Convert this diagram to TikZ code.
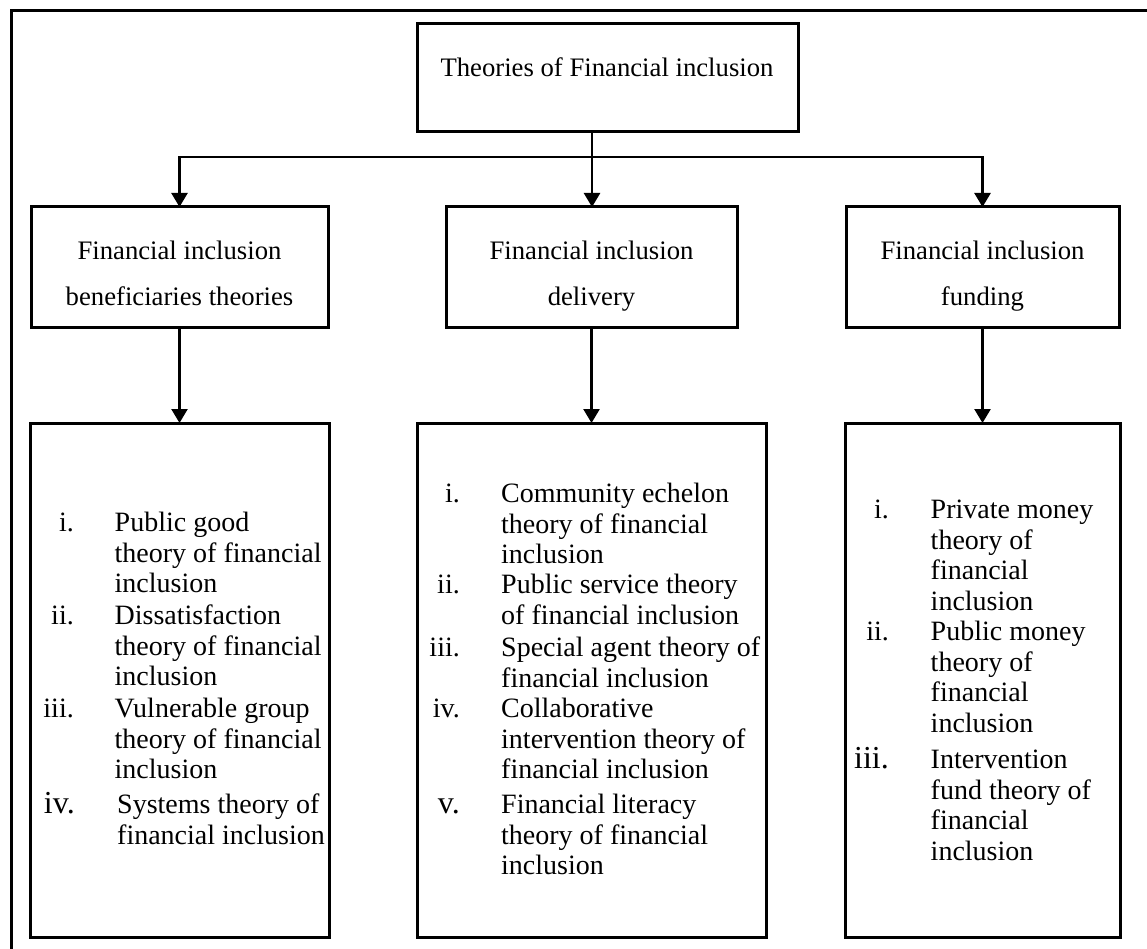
\documentclass[tikz,border=0pt]{standalone}
\usepackage{fontspec}
\setmainfont{Liberation Serif}
\usetikzlibrary{arrows.meta}
\begin{document}
\begin{tikzpicture}[x=1pt,y=-1pt,
  box/.style={draw, line width=3pt, inner sep=0pt, outer sep=0pt, anchor=north west},
  conn/.style={line width=2.5pt, -{Triangle[width=16pt,length=14pt]}},
  trunk/.style={line width=2.5pt},
  head/.style={inner sep=0pt, anchor=north, align=center, font=\fontsize{26.7}{46}\selectfont},
  itemtext/.style={inner sep=0pt, anchor=north west, align=left, font=\fontsize{28}{30.5}\selectfont},
  num/.style={inner sep=0pt, anchor=north east, font=\fontsize{28}{30.5}\selectfont},
]
\useasboundingbox (0,0) rectangle (1147,949);
% outer frame (top and left edges)
\draw[line width=3pt] (11,949) -- (11,11) -- (1147,11);

% boxes
\node[box, minimum width=381pt, minimum height=108pt] (root) at (417,24) {};
\node[box, minimum width=297pt, minimum height=120pt] (ben) at (31,207) {};
\node[box, minimum width=291pt, minimum height=120pt] (del) at (446,207) {};
\node[box, minimum width=273pt, minimum height=120pt] (fun) at (846,207) {};
\node[box, minimum width=299pt, minimum height=514pt] (benlist) at (30,423) {};
\node[box, minimum width=349pt, minimum height=514pt] (dellist) at (417,423) {};
\node[box, minimum width=275pt, minimum height=514pt] (funlist) at (845,423) {};

% headings
\node[inner sep=0pt, anchor=base, font=\fontsize{26.7}{30}\selectfont] (roottext) at (607,77) {Theories of Financial inclusion};
\node[head] (bentext) at (179.5,227) {\strut Financial inclusion\\beneficiaries theories};
\node[head] (deltext) at (591.5,227) {\strut Financial inclusion\\delivery};
\node[head] (funtext) at (982.5,227) {\strut Financial inclusion\\funding};

% connectors
\coordinate (split) at (592,157);
\draw[trunk] (root.south -| split) -- (split);
\draw[conn] (split) -| (ben.north);
\draw[conn] (split) -- (split |- del.north);
\draw[conn] (split) -| (fun.north);
\draw[conn] (ben.south) -- (benlist.north);
\draw[conn] (del.south) -- (dellist.north);
\draw[conn] (fun.south) -- (funlist.north);

% beneficiaries list
\node[num] (bn1) at (74,510.2) {\strut i.};
\node[itemtext] (bt1) at (114.5,510.2) {\strut Public good\\theory of financial\\inclusion};
\node[num] (bn2) at (74,603.2) {\strut ii.};
\node[itemtext] (bt2) at (114.5,603.2) {\strut Dissatisfaction\\theory of financial\\inclusion};
\node[num] (bn3) at (74,696.2) {\strut iii.};
\node[itemtext] (bt3) at (114.5,696.2) {\strut Vulnerable group\\theory of financial\\inclusion};
\node[num] (bn4) at (75,792.2) {\strut{\fontsize{32}{32}\selectfont iv.}};
\node[itemtext] (bt4) at (117,792.2) {\strut Systems theory of\\financial inclusion};

% delivery list
\node[num] (dn1) at (460,481.2) {\strut i.};
\node[itemtext] (dt1) at (501,481.2) {\strut Community echelon\\theory of financial\\inclusion};
\node[num] (dn2) at (460,572.2) {\strut ii.};
\node[itemtext] (dt2) at (501,572.2) {\strut Public service theory\\of financial inclusion};
\node[num] (dn3) at (460,635.2) {\strut iii.};
\node[itemtext] (dt3) at (501,635.2) {\strut Special agent theory of\\financial inclusion};
\node[num] (dn4) at (460,696.2) {\strut iv.};
\node[itemtext] (dt4) at (501,696.2) {\strut Collaborative\\intervention theory of\\financial inclusion};
\node[num] (dn5) at (460,792.2) {\strut{\fontsize{32}{32}\selectfont v.}};
\node[itemtext] (dt5) at (501,792.2) {\strut Financial literacy\\theory of financial\\inclusion};

% funding list
\node[num] (fn1) at (889,497.2) {\strut i.};
\node[itemtext] (ft1) at (930.5,497.2) {\strut Private money\\theory of\\financial\\inclusion};
\node[num] (fn2) at (889,619.2) {\strut ii.};
\node[itemtext] (ft2) at (930.5,619.2) {\strut Public money\\theory of\\financial\\inclusion};
\node[num] (fn3) at (889,747.2) {\strut{\fontsize{32}{32}\selectfont iii.}};
\node[itemtext] (ft3) at (930.5,747.2) {\strut Intervention\\fund theory of\\financial\\inclusion};
\end{tikzpicture}
\end{document}
